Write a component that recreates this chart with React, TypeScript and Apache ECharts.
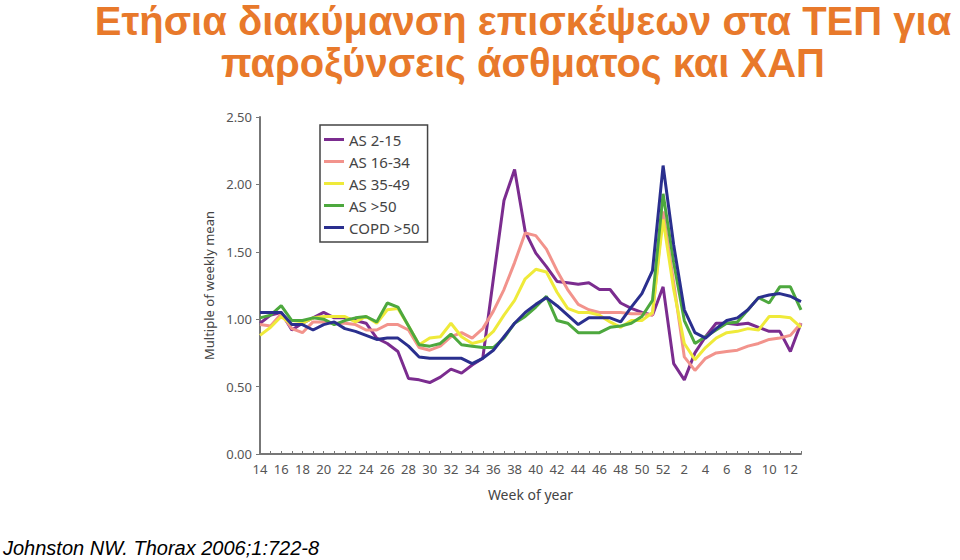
import React, { useEffect, useRef } from "react";
import * as echarts from "echarts";

const weeks = [14, 15, 16, 17, 18, 19, 20, 21, 22, 23, 24, 25, 26, 27, 28, 29, 30, 31, 32, 33, 34, 35, 36, 37, 38, 39, 40, 41, 42, 43, 44, 45, 46, 47, 48, 49, 50, 51, 52, 1, 2, 3, 4, 5, 6, 7, 8, 9, 10, 11, 12, 13];

const seriesNames = ["AS 2-15", "AS 16-34", "AS 35-49", "AS >50", "COPD >50"];

const as2to15 = [0.97, 1.03, 1.05, 0.92, 0.97, 1.01, 1.05, 1.01, 1.01, 0.99, 0.97, 0.86, 0.82, 0.76, 0.56, 0.55, 0.53, 0.57, 0.63, 0.60, 0.66, 0.71, 1.30, 1.88, 2.11, 1.65, 1.49, 1.39, 1.28, 1.27, 1.26, 1.27, 1.22, 1.22, 1.12, 1.08, 1.05, 1.03, 1.24, 0.67, 0.55, 0.75, 0.87, 0.97, 0.97, 0.96, 0.97, 0.94, 0.91, 0.91, 0.76, 0.97];
const as16to34 = [0.96, 0.95, 1.04, 0.93, 0.90, 0.98, 0.98, 0.97, 0.97, 0.96, 0.92, 0.92, 0.96, 0.96, 0.92, 0.79, 0.77, 0.80, 0.87, 0.90, 0.86, 0.93, 1.06, 1.22, 1.42, 1.64, 1.62, 1.52, 1.36, 1.22, 1.11, 1.07, 1.05, 1.05, 1.05, 1.04, 1.04, 1.03, 1.80, 1.27, 0.72, 0.62, 0.71, 0.75, 0.76, 0.77, 0.80, 0.82, 0.85, 0.86, 0.88, 0.97];
const as35to49 = [0.88, 0.94, 1.02, 0.96, 0.97, 1.01, 1.02, 1.02, 1.02, 0.98, 1.02, 0.97, 1.07, 1.08, 0.95, 0.81, 0.86, 0.87, 0.97, 0.87, 0.82, 0.84, 0.91, 1.03, 1.14, 1.30, 1.37, 1.35, 1.20, 1.08, 1.05, 1.05, 1.03, 0.98, 0.94, 0.99, 0.99, 1.05, 1.74, 1.22, 0.82, 0.70, 0.79, 0.86, 0.90, 0.91, 0.93, 0.92, 1.02, 1.02, 1.01, 0.94];
const asOver50 = [1.01, 1.03, 1.10, 0.99, 0.99, 1.01, 1.00, 0.96, 0.99, 1.01, 1.02, 0.98, 1.12, 1.09, 0.95, 0.81, 0.80, 0.82, 0.89, 0.81, 0.80, 0.79, 0.79, 0.86, 0.97, 1.02, 1.09, 1.17, 0.99, 0.97, 0.90, 0.90, 0.90, 0.94, 0.95, 0.97, 1.02, 1.14, 1.93, 1.42, 0.99, 0.82, 0.87, 0.92, 0.97, 0.98, 1.07, 1.16, 1.12, 1.24, 1.24, 1.07];
const copdOver50 = [1.05, 1.05, 1.05, 0.96, 0.96, 0.92, 0.96, 0.98, 0.93, 0.91, 0.88, 0.85, 0.86, 0.86, 0.80, 0.72, 0.71, 0.71, 0.71, 0.71, 0.67, 0.71, 0.77, 0.87, 0.97, 1.05, 1.11, 1.16, 1.10, 1.03, 0.96, 1.01, 1.01, 1.01, 0.98, 1.09, 1.19, 1.36, 2.14, 1.55, 1.07, 0.90, 0.86, 0.93, 0.99, 1.01, 1.07, 1.16, 1.18, 1.19, 1.17, 1.13];

const colors = ["#7B2C8F", "#F2938C", "#EFEA3A", "#4DA83E", "#2A2F8E"];

const titleLines = ["Ετήσια διακύμανση επισκέψεων στα ΤΕΠ για", "παροξύνσεις άσθματος και ΧΑΠ"];
const footer = "Johnston NW. Thorax 2006;1:722-8";

export default function App() {
  const ref = useRef<HTMLDivElement>(null);
  useEffect(() => {
    if (!ref.current) return;
    const chart = echarts.init(ref.current, null, { renderer: "svg" });
    const dataSets = [as2to15, as16to34, as35to49, asOver50, copdOver50];
    chart.setOption({
      animation: false,
      backgroundColor: "#ffffff",
      color: colors,
      graphic: [
        {
          type: "text",
          x: 523,
          y: 0,
          style: {
            text: titleLines.join("\n"),
            fill: "#E8792B",
            font: "bold 40px 'Liberation Sans', Arial, sans-serif",
            align: "center",
            lineHeight: 42,
          },
        },
        {
          type: "text",
          x: 3,
          y: 538,
          style: {
            text: footer,
            fill: "#000000",
            font: "italic 20px 'Liberation Sans', Arial, sans-serif",
            align: "left",
          },
        },
      ],
      legend: {
        orient: "vertical",
        left: 320,
        top: 125,
        data: seriesNames,
        borderColor: "#444444",
        borderWidth: 1.5,
        borderRadius: 0,
        padding: [7, 8, 7, 4],
        itemGap: 7,
        itemWidth: 20,
        itemHeight: 3,
        icon: "rect",
        textStyle: { fontSize: 15, color: "#444444", fontFamily: "'Noto Sans', sans-serif" },
      },
      grid: { left: 260, right: 159, top: 117, bottom: 106 },
      xAxis: {
        type: "category",
        data: weeks.map(String),
        boundaryGap: false,
        name: "Week of year",
        nameLocation: "middle",
        nameGap: 33,
        nameTextStyle: { fontSize: 14, color: "#444444", fontFamily: "'Noto Sans', sans-serif" },
        axisLine: { lineStyle: { color: "#777777", width: 2 } },
        axisTick: { inside: true, length: 3, interval: 0, lineStyle: { color: "#777777" } },
        axisLabel: {
          interval: 0,
          fontSize: 13,
          color: "#555555",
          margin: 8,
          fontFamily: "'Noto Sans', sans-serif",
          formatter: (v: string) => (Number(v) % 2 === 0 ? v : ""),
        },
        splitLine: { show: false },
      },
      yAxis: {
        type: "value",
        min: 0,
        max: 2.5,
        interval: 0.5,
        name: "Multiple of weekly mean",
        nameLocation: "middle",
        nameGap: 43,
        nameTextStyle: { fontSize: 13, color: "#444444", fontFamily: "'Noto Sans', sans-serif" },
        axisLine: { show: true, lineStyle: { color: "#777777", width: 2 } },
        axisTick: { show: true, length: 4, lineStyle: { color: "#777777" } },
        axisLabel: {
          fontSize: 13,
          color: "#555555",
          margin: 8,
          fontFamily: "'Noto Sans', sans-serif",
          formatter: (v: number) => v.toFixed(2),
        },
        splitLine: { show: false },
      },
      series: seriesNames.map((name, i) => ({
        name,
        type: "line",
        data: dataSets[i],
        symbol: "none",
        lineStyle: { width: 3, color: colors[i] },
        itemStyle: { color: colors[i] },
      })),
    });
    return () => chart.dispose();
  }, []);
  return <div ref={ref} style={{ width: 960, height: 560, position: "absolute", left: 0, top: 0 }} />;
}
